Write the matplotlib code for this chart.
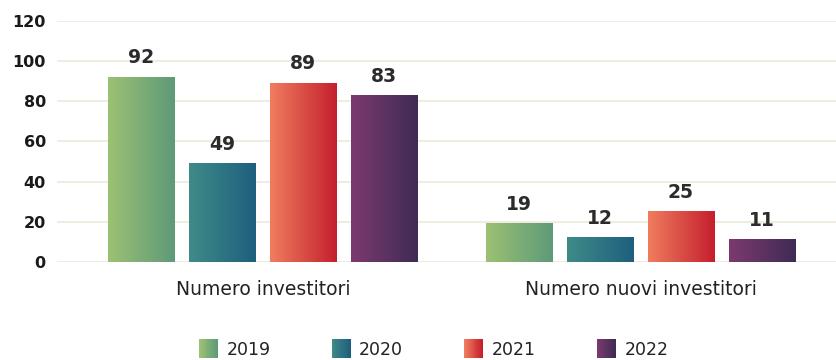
import numpy as np
import matplotlib
matplotlib.use("Agg")
import matplotlib.pyplot as plt
from matplotlib.colors import LinearSegmentedColormap
from matplotlib.patches import Rectangle
from matplotlib.legend_handler import HandlerBase

# data
categories = ["Numero investitori", "Numero nuovi investitori"]
years = ["2019", "2020", "2021", "2022"]
values = {
    "2019": [92, 19],
    "2020": [49, 12],
    "2021": [89, 25],
    "2022": [83, 11],
}
y_ticks = [0, 20, 40, 60, 80, 100, 120]

# left -> right gradient stops for each year
gradients = {
    "2019": ("#9cc173", "#5e9a78"),
    "2020": ("#3f8b88", "#1e5f7e"),
    "2021": ("#f07d5f", "#c41f2d"),
    "2022": ("#7c3a6f", "#3f2b54"),
}

plt.rcParams["font.family"] = ["DejaVu Sans"]
plt.rcParams["font.size"] = 12


def grad_cmap(year):
    c0, c1 = gradients[year]
    return LinearSegmentedColormap.from_list("g" + year, [c0, c1])


class GradientHandler(HandlerBase):
    # legend swatch made of thin vertical stripes
    def create_artists(self, legend, orig_handle, xdescent, ydescent,
                       width, height, fontsize, trans):
        year = orig_handle.get_label()
        cmap = grad_cmap(year)
        n = 20
        side = height * 1.3
        x0 = -xdescent + (width - side) / 2
        y0 = -ydescent + (height - side) / 2
        arts = []
        for i in range(n):
            r = Rectangle((x0 + i * side / n, y0), side / n + 0.3, side,
                          facecolor=cmap(i / (n - 1)), edgecolor="none",
                          transform=trans)
            arts.append(r)
        return arts


fig = plt.figure(figsize=(8.37, 3.6), dpi=100)
ax = fig.add_axes([0.068, 0.272, 0.932, 0.670])

x = np.arange(len(categories))
width = 0.175
step = 0.214
grad = np.linspace(0, 1, 256).reshape(1, -1)

handles = []
for i, year in enumerate(years):
    offs = (i - 1.5) * step
    bars = ax.bar(x + offs, values[year], width, color="none",
                  edgecolor="none", label=year, zorder=2)
    for b, v in zip(bars, values[year]):
        bx, by = b.get_x(), b.get_y()
        bw, bh = b.get_width(), b.get_height()
        ax.imshow(grad, cmap=grad_cmap(year), aspect="auto",
                  extent=[bx, bx + bw, by, by + bh], zorder=2,
                  interpolation="bilinear")
        ax.annotate(str(v), (bx + bw / 2, by + bh), xytext=(0, 7),
                    textcoords="offset points", ha="center", va="bottom",
                    fontsize=13.5, fontweight="bold", color="#2b2b2b")
    handles.append(Rectangle((0, 0), 1, 1, label=year))

ax.set_xlim(-0.545, 1.52)
ax.set_ylim(0, 120)
ax.set_yticks(y_ticks)
ax.set_xticks(x)
ax.set_xticklabels(categories, fontsize=13.5, color="#222222")
for lbl in ax.get_yticklabels():
    lbl.set_fontweight("bold")
    lbl.set_fontsize(11.5)
    lbl.set_color("#1a1a1a")
ax.tick_params(axis="y", length=0, pad=8)
ax.tick_params(axis="x", length=0, pad=13)
ax.grid(axis="y", color="#f0ece2", linewidth=1.5, zorder=0)
ax.set_axisbelow(True)
for s in ax.spines.values():
    s.set_visible(False)

leg = fig.legend(handles=handles, labels=years, loc="lower center",
                 bbox_to_anchor=(0.518, -0.04), ncol=4, frameon=False,
                 fontsize=12.5, handler_map={Rectangle: GradientHandler()},
                 handlelength=1.1, handleheight=0.9, columnspacing=3.5,
                 handletextpad=0.5)
for t in leg.get_texts():
    t.set_color("#222222")

fig.savefig("out.png", dpi=100)
